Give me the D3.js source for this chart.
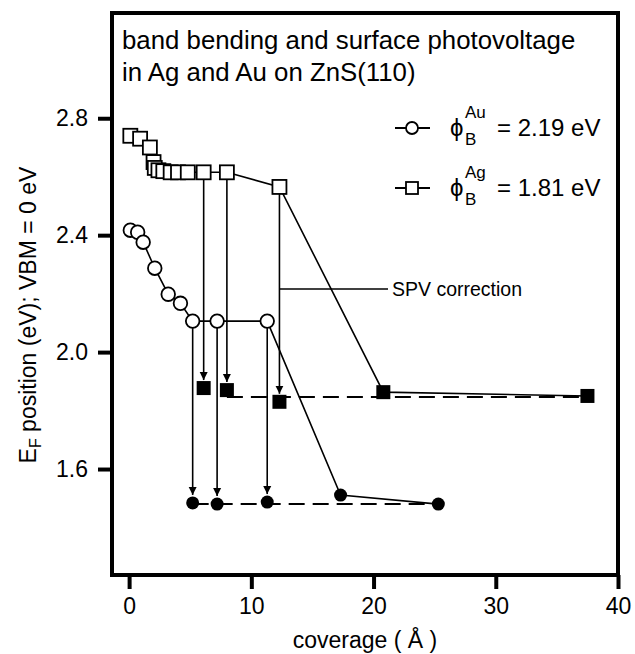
<!DOCTYPE html>
<html>
<head>
<meta charset="utf-8">
<script src="https://cdn.jsdelivr.net/npm/d3@7"></script>
<style>
  body { margin: 0; background: #fff; }
  svg { display: block; }
  text { font-family: "Liberation Sans", Arial, Helvetica, sans-serif; fill: #000; }
</style>
</head>
<body>
<div id="chart"></div>
<script>
// Ag on ZnS(110): open squares = measured, filled = after SPV correction
var agOpenX   = [0.1, 0.9, 1.7, 2.0, 2.1, 2.4, 2.8, 3.4, 4.0, 4.8, 6.1, 8.0, 12.3];
var agOpenY   = [2.74, 2.73, 2.70, 2.65, 2.63, 2.622, 2.619, 2.615, 2.615, 2.615, 2.615, 2.615, 2.565];
var agFilledX = [6.1, 8.0, 12.3, 20.8, 37.5];
var agFilledY = [1.877, 1.87, 1.83, 1.863, 1.85];

// Au on ZnS(110)
var auOpenX   = [0.1, 0.7, 1.15, 2.1, 3.2, 4.2, 5.2, 7.2, 11.3];
var auOpenY   = [2.417, 2.41, 2.376, 2.287, 2.198, 2.167, 2.106, 2.106, 2.106];
var auFilledX = [5.2, 7.2, 11.3, 17.3, 25.3];
var auFilledY = [1.484, 1.48, 1.487, 1.511, 1.48];

// dashed guide levels
var dashAgX = [8.0, 37.5];
var dashAgY = [1.846, 1.846];
var dashAuX = [5.2, 25.3];
var dashAuY = [1.48, 1.48];

var xTicks = [0, 10, 20, 30, 40];
var yTicks = [1.6, 2.0, 2.4, 2.8];
var titleLines = ["band bending and surface photovoltage", "in Ag and Au on ZnS(110)"];

var W = 635, H = 654;
var pLeft = 112, pRight = 618, pTop = 13, pBottom = 575;

var x = d3.scaleLinear().domain([-1.4, 40]).range([pLeft, pRight]);
var y = d3.scaleLinear().domain([1.2375, 3.16]).range([pBottom, pTop]);

var svg = d3.select("#chart").append("svg")
    .attr("width", W).attr("height", H);

svg.append("defs").append("marker")
    .attr("id", "arrow")
    .attr("viewBox", "0 0 10 10")
    .attr("refX", 10).attr("refY", 5)
    .attr("markerWidth", 8).attr("markerHeight", 11)
    .attr("markerUnits", "userSpaceOnUse")
    .attr("orient", "auto")
  .append("path")
    .attr("d", "M0,0 L10,5 L0,10 Z")
    .attr("fill", "#000");

// frame
svg.append("rect")
    .attr("x", pLeft).attr("y", pTop)
    .attr("width", pRight - pLeft).attr("height", pBottom - pTop)
    .attr("fill", "none").attr("stroke", "#000").attr("stroke-width", 4);

// axes
var xAxis = d3.axisBottom(x).tickValues(xTicks).tickSize(14).tickPadding(9).tickFormat(d3.format("d"));
var gx = svg.append("g").attr("transform", "translate(0," + pBottom + ")").call(xAxis);
gx.select(".domain").remove();
gx.selectAll(".tick line").attr("stroke-width", 4);
gx.selectAll(".tick text").attr("font-size", 23).attr("font-family", null);

var yAxis = d3.axisLeft(y).tickValues(yTicks).tickSize(14).tickPadding(10).tickFormat(d3.format(".1f"));
var gy = svg.append("g").attr("transform", "translate(" + pLeft + ",0)").call(yAxis);
gy.select(".domain").remove();
gy.selectAll(".tick line").attr("stroke-width", 4);
gy.selectAll(".tick text").attr("font-size", 23).attr("font-family", null);

// axis titles
svg.append("text")
    .attr("x", 365).attr("y", 648)
    .attr("text-anchor", "middle").attr("font-size", 23)
    .text("coverage ( \u00C5 )");

var yl = svg.append("text")
    .attr("transform", "translate(36,315) rotate(-90)")
    .attr("text-anchor", "middle").attr("font-size", 23);
yl.append("tspan").text("E");
yl.append("tspan").attr("font-size", 16).attr("dy", 5).text("F");
yl.append("tspan").attr("dy", -5).text(" position (eV); VBM = 0 eV");

// title
svg.append("g").selectAll("text").data(titleLines).enter().append("text")
    .attr("x", 122).attr("y", function(d, i) { return 49 + i * 32; })
    .attr("font-size", 25.8)
    .text(function(d) { return d; });

function pts(xs, ys) { return xs.map(function(v, i) { return [v, ys[i]]; }); }
var line = d3.line().x(function(d) { return x(d[0]); }).y(function(d) { return y(d[1]); });

// dashed levels
svg.append("path").attr("d", line(pts(dashAgX, dashAgY)))
    .attr("fill", "none").attr("stroke", "#000").attr("stroke-width", 2).attr("stroke-dasharray", "16,8");
svg.append("path").attr("d", line(pts(dashAuX, dashAuY)))
    .attr("fill", "none").attr("stroke", "#000").attr("stroke-width", 2).attr("stroke-dasharray", "16,8");

// connecting solid lines: open series, then tail through the corrected points
var agLine = pts(agOpenX, agOpenY).concat(pts(agFilledX.slice(3), agFilledY.slice(3)));
var auLine = pts(auOpenX, auOpenY).concat(pts(auFilledX.slice(3), auFilledY.slice(3)));
svg.append("path").attr("d", line(agLine)).attr("fill", "none").attr("stroke", "#000").attr("stroke-width", 1.6);
svg.append("path").attr("d", line(auLine)).attr("fill", "none").attr("stroke", "#000").attr("stroke-width", 1.6);

// SPV correction arrows
var arrows = [];
agFilledX.slice(0, 3).forEach(function(v, i) {
    var j = agOpenX.indexOf(v);
    arrows.push({x: v, y0: agOpenY[j], y1: agFilledY[i]});
});
auFilledX.slice(0, 3).forEach(function(v, i) {
    var j = auOpenX.indexOf(v);
    arrows.push({x: v, y0: auOpenY[j], y1: auFilledY[i]});
});
svg.append("g").selectAll("line").data(arrows).enter().append("line")
    .attr("x1", function(d) { return x(d.x); })
    .attr("x2", function(d) { return x(d.x); })
    .attr("y1", function(d) { return y(d.y0) + 7; })
    .attr("y2", function(d) { return y(d.y1) - 8; })
    .attr("stroke", "#000").attr("stroke-width", 1.6)
    .attr("marker-end", "url(#arrow)");

// SPV label
svg.append("line")
    .attr("x1", x(12.3)).attr("x2", 388)
    .attr("y1", 289).attr("y2", 289)
    .attr("stroke", "#000").attr("stroke-width", 1.5);
svg.append("text").attr("x", 392).attr("y", 296).attr("font-size", 19.5).text("SPV correction");

// markers
var s = 14;
svg.append("g").selectAll("rect").data(pts(agOpenX, agOpenY)).enter().append("rect")
    .attr("x", function(d) { return x(d[0]) - s / 2; })
    .attr("y", function(d) { return y(d[1]) - s / 2; })
    .attr("width", s).attr("height", s)
    .attr("fill", "#fff").attr("stroke", "#000").attr("stroke-width", 1.8);
svg.append("g").selectAll("rect").data(pts(agFilledX, agFilledY)).enter().append("rect")
    .attr("x", function(d) { return x(d[0]) - s / 2; })
    .attr("y", function(d) { return y(d[1]) - s / 2; })
    .attr("width", s).attr("height", s)
    .attr("fill", "#000");
svg.append("g").selectAll("circle").data(pts(auOpenX, auOpenY)).enter().append("circle")
    .attr("cx", function(d) { return x(d[0]); })
    .attr("cy", function(d) { return y(d[1]); })
    .attr("r", 6.8)
    .attr("fill", "#fff").attr("stroke", "#000").attr("stroke-width", 1.8);
svg.append("g").selectAll("circle").data(pts(auFilledX, auFilledY)).enter().append("circle")
    .attr("cx", function(d) { return x(d[0]); })
    .attr("cy", function(d) { return y(d[1]); })
    .attr("r", 6.5)
    .attr("fill", "#000");

// legend
var legend = [
    {sym: "circle", metal: "Au", value: "= 2.19 eV", y: 128},
    {sym: "square", metal: "Ag", value: "= 1.81 eV", y: 188}
];
var lg = svg.append("g").selectAll("g").data(legend).enter().append("g");
lg.append("line")
    .attr("x1", 395).attr("x2", 430)
    .attr("y1", function(d) { return d.y; }).attr("y2", function(d) { return d.y; })
    .attr("stroke", "#000").attr("stroke-width", 1.8);
lg.filter(function(d) { return d.sym === "circle"; }).append("circle")
    .attr("cx", 412).attr("cy", function(d) { return d.y; }).attr("r", 6)
    .attr("fill", "#fff").attr("stroke", "#000").attr("stroke-width", 1.8);
lg.filter(function(d) { return d.sym === "square"; }).append("rect")
    .attr("x", 406).attr("y", function(d) { return d.y - 6; })
    .attr("width", 12).attr("height", 12)
    .attr("fill", "#fff").attr("stroke", "#000").attr("stroke-width", 1.8);
lg.append("text").attr("x", 450).attr("y", function(d) { return d.y + 8; })
    .attr("font-size", 24).text("\u03D5");
lg.append("text").attr("x", 465).attr("y", function(d) { return d.y - 10; })
    .attr("font-size", 17).text(function(d) { return d.metal; });
lg.append("text").attr("x", 465).attr("y", function(d) { return d.y + 17; })
    .attr("font-size", 17).text("B");
lg.append("text").attr("x", 497).attr("y", function(d) { return d.y + 8; })
    .attr("font-size", 24).text(function(d) { return d.value; });
</script>
</body>
</html>
